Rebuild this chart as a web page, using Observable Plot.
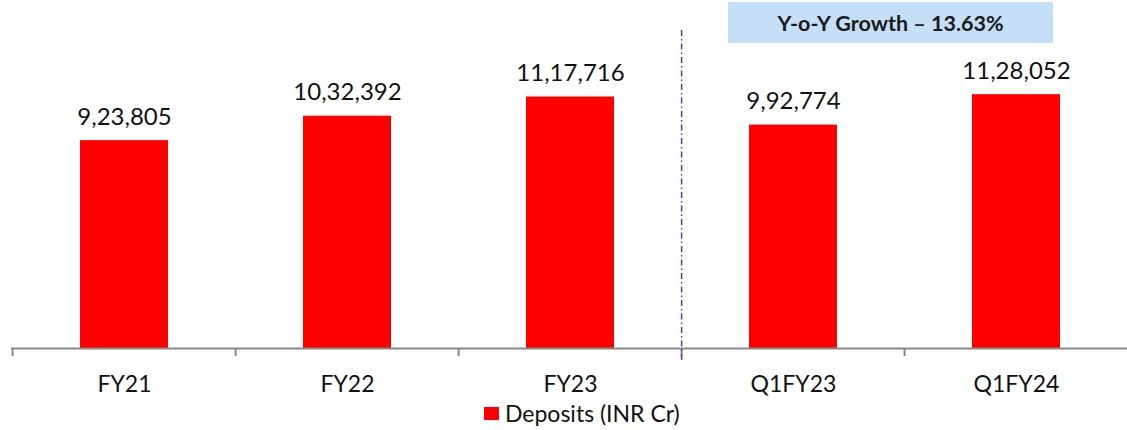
<!DOCTYPE html>
<html>
<head>
<meta charset="utf-8">
<script src="https://cdn.jsdelivr.net/npm/d3@7"></script>
<script src="https://cdn.jsdelivr.net/npm/@observablehq/plot@0.6"></script>
<style>
  html, body { margin: 0; padding: 0; background: #fff; }
  #wrap { position: relative; width: 1127px; height: 430px; font-family: Lato, "Open Sans", sans-serif; }
  #note { position: absolute; left: 728px; top: 2px; width: 325px; height: 41px; background: #C5DFF6;
          display: flex; align-items: center; justify-content: center; font-weight: bold; font-size: 21.5px; color: #1a1a1a; }
  #legend { position: absolute; left: 484px; top: 399px; display: flex; align-items: center; font-size: 23px; color: #111; }
  #legend span.sw { display: inline-block; width: 15px; height: 13px; background: #FF0000; margin-right: 6px; }
</style>
</head>
<body>
<div id="wrap">
  <div id="chart"></div>
  <div id="note"></div>
  <div id="legend"><span class="sw"></span><span id="legtext"></span></div>
</div>
<script>
const categories = ["FY21", "FY22", "FY23", "Q1FY23", "Q1FY24"];
const deposits = [923805, 1032392, 1117716, 992774, 1128052];
const labels = ["9,23,805", "10,32,392", "11,17,716", "9,92,774", "11,28,052"];
const dividerBefore = ["Q1FY23"];
const seriesName = "Deposits (INR Cr)";
const noteText = "Y-o-Y Growth \u2013 13.63%";

const data = categories.map((c, i) => ({cat: c, value: deposits[i], label: labels[i]}));

const W = 1127, H = 400, mL = 11, mR = -3, mT = 33, mB = 52;
const step = (W - mL - mR) / categories.length;

const chart = Plot.plot({
  width: W,
  height: H,
  marginLeft: mL,
  marginRight: mR,
  marginTop: mT,
  marginBottom: mB,
  style: {fontFamily: "Lato, 'Open Sans', sans-serif", background: "#fff", overflow: "visible"},
  x: {domain: categories, paddingInner: 0.605, paddingOuter: 0.3025, label: null},
  y: {domain: [0, 1400000], axis: null},
  marks: [
    Plot.barY(data, {x: "cat", y: "value", fill: "#FF0000"}),
    Plot.text(data, {x: "cat", y: "value", text: "label", dy: -16, lineAnchor: "bottom", fontSize: 24, fill: "#111"}),
    Plot.ruleY([0], {stroke: "#888", strokeWidth: 2}),
    Plot.axisX({tickSize: 8, tickFormat: () => "", dx: -step / 2, stroke: "#888", strokeWidth: 2, label: null}),
    Plot.axisX({tickSize: 0, tickPadding: 27, fontSize: 23, fill: "#111", label: null}),
    Plot.ruleX(dividerBefore, {x: d => d, dx: -step / 2, stroke: "#7030A0", strokeWidth: 1.5, strokeDasharray: "6,3,1.5,3", insetTop: -3, insetBottom: -15})
  ]
});
document.getElementById("chart").appendChild(chart);
document.getElementById("note").textContent = noteText;
document.getElementById("legtext").textContent = seriesName;
</script>
</body>
</html>
